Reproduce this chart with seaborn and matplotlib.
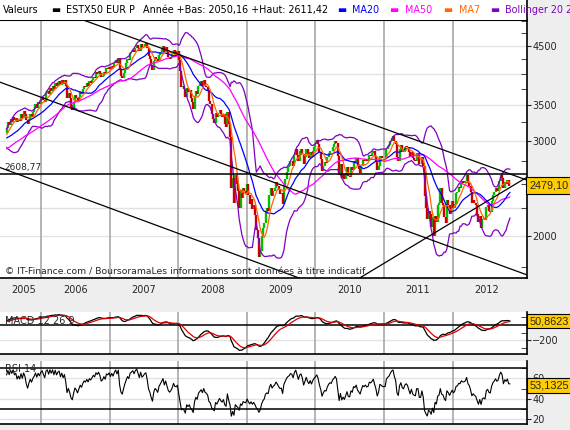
import numpy as np
import pandas as pd
import matplotlib
matplotlib.use("Agg")
import matplotlib.pyplot as plt
import matplotlib.dates as mdates
from matplotlib.patches import Rectangle
from matplotlib.lines import Line2D
from matplotlib.ticker import FixedLocator, NullFormatter, FuncFormatter
import seaborn as sns

# cours de cloture hebdo (vendredi) ESTX50
# jul 2004 -> jun 2005 : seulement pour amorcer les moyennes
close_2004 = [2730, 2690, 2650, 2700, 2720, 2660, 2630, 2680, 2670, 2710, 2740, 2770, 2720,
              2740, 2710, 2760, 2700, 2770, 2820, 2800, 2850, 2830, 2870, 2860, 2910, 2900, 2950,
              2910, 2950, 2900, 2980, 3010, 2990, 3050, 3070, 3040, 3080, 3030, 3050,
              3020, 3060, 2990, 2920, 2950, 2990, 2960, 3030, 3010, 3080, 3050, 3130, 3110]
close_2005 = [3170, 3250, 3210, 3290, 3260, 3330, 3280, 3310, 3250,
              3300, 3270, 3360, 3310, 3410, 3370, 3280, 3220, 3300,
              3370, 3330, 3400, 3440, 3510, 3460, 3540, 3510, 3580]
close_2006 = [3620, 3580, 3540, 3680, 3710, 3660, 3760, 3720, 3800, 3740, 3850, 3790, 3854,
              3880, 3810, 3890, 3830, 3900, 3800, 3600, 3680, 3600, 3470, 3420, 3540, 3648,
              3610, 3540, 3620, 3700, 3660, 3740, 3800, 3780, 3840, 3800, 3870, 3850, 3900,
              3950, 3930, 4020, 4000, 4050, 4010, 3940, 3960, 4020, 3990, 4090, 4080, 4120]
close_2007 = [4080, 4140, 4110, 4180, 4230, 4190, 4270, 4080, 3960, 3920, 4010, 4100, 4180,
              4260, 4230, 4360, 4390, 4430, 4390, 4470, 4510, 4460, 4400, 4530, 4460, 4490,
              4540, 4560, 4470, 4320, 4260, 4150, 4060, 4220, 4290, 4260, 4210, 4330, 4380,
              4440, 4500, 4390, 4480, 4390, 4300, 4260, 4290, 4340, 4430, 4380, 4370, 4400]
close_2008 = [4240, 4050, 3780, 3800, 3740, 3620, 3760, 3700, 3730, 3600, 3550, 3440, 3630,
              3720, 3660, 3790, 3830, 3870, 3800, 3890, 3800, 3780, 3730, 3560, 3520, 3360,
              3300, 3240, 3380, 3330, 3380, 3430, 3370, 3330, 3370, 3230, 3180, 3400, 3220,
              3050, 2450, 2560, 2300, 2590, 2500, 2420, 2250, 2430, 2350, 2460, 2420, 2400]
close_2009 = [2500, 2380, 2290, 2340, 2240, 2280, 2190, 2050, 1980, 1830, 1880, 2000, 2070,
              2110, 2220, 2250, 2230, 2380, 2460, 2370, 2420, 2450, 2520, 2480, 2430, 2390,
              2400, 2290, 2480, 2550, 2630, 2680, 2700, 2760, 2750, 2700, 2830, 2900, 2830,
              2760, 2870, 2900, 2840, 2720, 2800, 2900, 2830, 2790, 2860, 2800, 2880, 2930]
close_2010 = [2965, 3010, 2960, 2860, 2780, 2640, 2700, 2740, 2730, 2800, 2850, 2880, 2870,
              2930, 2960, 3000, 2970, 2820, 2600, 2720, 2560, 2610, 2550, 2620, 2690, 2580,
              2570, 2680, 2650, 2760, 2740, 2790, 2700, 2660, 2620, 2700, 2770, 2750, 2780,
              2750, 2760, 2830, 2820, 2845, 2880, 2820, 2760, 2650, 2700, 2820, 2810, 2790, 2790]
close_2011 = [2790, 2900, 2930, 2950, 3000, 3040, 3060, 3000, 2960, 2800, 2760, 2900,
              2950, 2880, 2860, 2920, 2940, 2920, 2860, 2800, 2860, 2790, 2770, 2760, 2850,
              2850, 2720, 2720, 2800, 2700, 2370, 2250, 2150, 2230, 2200, 2080, 2170, 2000, 2180,
              2120, 2280, 2300, 2450, 2300, 2280, 2170, 2110, 2330, 2280, 2200, 2260, 2320]
close_2012 = [2250, 2290, 2400, 2410, 2470, 2460, 2530, 2510, 2510, 2530, 2600, 2510, 2480,
              2410, 2300, 2330, 2300, 2280, 2200, 2120, 2180, 2070, 2150, 2160, 2140, 2260,
              2280, 2230, 2220, 2320, 2380, 2410, 2450, 2420, 2440, 2530, 2590, 2560, 2450,
              2520, 2500, 2540, 2480, 2479.10]

last_close = 2479.10
last_macd = 50.8623
last_rsi = 53.1325
pivot_level = 2608.77

# droites de tendance (date, niveau)
trend_dates = ["2005-05-27", "2013-01-30"]
trend_top = [5715, 2540]
trend_mid = [3856, 1695]
trend_low = [2679, 1168]
support_dates = ["2010-05-11", "2013-01-30"]
support_vals = [1589, 2569]

years = list(range(2005, 2013))

closes = (close_2004 + close_2005 + close_2006 + close_2007 + close_2008 +
          close_2009 + close_2010 + close_2011 + close_2012)
df = pd.DataFrame({"date": pd.date_range("2004-07-02", periods=len(closes), freq="W-FRI"),
                   "close": closes})
df["open"] = df["close"].shift(1)
df["ma7"] = df["close"].rolling(7).mean()
df["ma20"] = df["close"].rolling(20).mean()
df["ma50"] = df["close"].rolling(50).mean()
sd = df["close"].rolling(20).std(ddof=0)
df["bb_up"] = df["ma20"] + 2 * sd
df["bb_dn"] = df["ma20"] - 2 * sd
ema12 = df["close"].ewm(span=12, adjust=False).mean()
ema26 = df["close"].ewm(span=26, adjust=False).mean()
df["macd"] = ema12 - ema26
df["signal"] = df["macd"].ewm(span=9, adjust=False).mean()
delta = df["close"].diff()
gain = delta.clip(lower=0).ewm(alpha=1 / 14, adjust=False).mean()
loss = (-delta.clip(upper=0)).ewm(alpha=1 / 14, adjust=False).mean()
df["rsi"] = 100 - 100 / (1 + gain / loss)
show = df[df["date"] >= "2005-07-01"].reset_index(drop=True)

sns.set_style("white")
plt.rcParams["font.family"] = ["DejaVu Sans"]

W, H = 570, 430
fig = plt.figure(figsize=(W / 100, H / 100), dpi=100, facecolor="#EEEEEE")
right = 526.7 / W
ax = fig.add_axes([0, 1 - 278 / H, right, 258 / H])
axm = fig.add_axes([0, 1 - 354 / H, right, 42 / H])
axr = fig.add_axes([0, 1 - 424 / H, right, 63 / H])

x0, x1 = mdates.date2num(pd.Timestamp("2005-05-27")), mdates.date2num(pd.Timestamp("2013-01-30"))
year_starts = [mdates.date2num(pd.Timestamp(f"{y}-01-01")) for y in years[1:]]
label_pos = [mdates.date2num(pd.Timestamp("2005-10-01"))] + \
            [mdates.date2num(pd.Timestamp(f"{y}-07-01")) for y in years[1:]]

for a in (ax, axm, axr):
    a.set_facecolor("white")
    a.set_xlim(x0, x1)
    for s in ("left", "top"):
        a.spines[s].set_visible(False)
    for s in ("right", "bottom"):
        a.spines[s].set_color("black")
        a.spines[s].set_linewidth(1.2)
    for xs in year_starts:
        a.axvline(xs, color="#A8A8A8", lw=1.2, zorder=0.5)
ax.spines["top"].set_visible(True)
ax.spines["top"].set_color("black")

# --- prix ---
ax.set_yscale("log")
ax.set_ylim(1672, 5028)
for g in [2000, 2250, 3000, 3500, 4000, 4500]:
    ax.axhline(g, color="#E2E2E2", lw=1, zorder=0.3)

up = show["close"] >= show["open"]
ax.vlines(show["date"][up], show["open"][up], show["close"][up], color="#00C000", lw=1.7, zorder=2)
ax.vlines(show["date"][~up], show["open"][~up], show["close"][~up], color="#CC0000", lw=1.7, zorder=2)

for col, c in [("bb_up", "#7F00C0"), ("bb_dn", "#7F00C0"), ("ma50", "#FF00FF"),
               ("ma20", "#0000FF"), ("ma7", "#FF6600")]:
    sns.lineplot(data=show, x="date", y=col, ax=ax, color=c, lw=0.9, zorder=3)

td = [pd.Timestamp(d) for d in trend_dates]
for vals in (trend_top, trend_mid, trend_low):
    ax.plot(td, vals, color="black", lw=0.9, zorder=4)
ax.plot([pd.Timestamp(d) for d in support_dates], support_vals, color="black", lw=0.9, zorder=4)
ax.axhline(pivot_level, color="black", lw=1.1, zorder=4)
ax.annotate(f"{pivot_level:.2f}".replace(".", ","), xy=(0, pivot_level),
            xycoords=("axes fraction", "data"), xytext=(3, 1), textcoords="offset points",
            fontsize=6.5, va="bottom", ha="left")

ax.yaxis.tick_right()
ax.yaxis.set_major_locator(FixedLocator([2000, 3000, 3500, 4500]))
ax.yaxis.set_minor_locator(FixedLocator(np.arange(1750, 5001, 250)))
ax.yaxis.set_major_formatter(FuncFormatter(lambda v, p: f"{v:.0f}"))
ax.yaxis.set_minor_formatter(NullFormatter())
ax.tick_params(axis="y", which="major", direction="out", length=3, labelsize=7, pad=1)
ax.tick_params(axis="y", which="minor", direction="in", length=4)

ax.set_xticks(label_pos)
ax.set_xticklabels([str(y) for y in years])
ax.xaxis.set_minor_locator(FixedLocator(year_starts))
ax.tick_params(axis="x", which="major", length=0, labelsize=7, pad=5)
ax.tick_params(axis="x", which="minor", direction="out", length=3, color="black")
ax.set_xlabel("")
ax.set_ylabel("")

ax.text(0.009, 0.025, "© IT-Finance.com / BoursoramaLes informations sont données à titre indicatif",
        transform=ax.transAxes, fontsize=6.7, va="center", ha="left", zorder=6)

box = dict(boxstyle="square,pad=0.2", fc="#FFCC00", ec="black", lw=0.8)
box_font = dict(fontsize=7.8, family=["Liberation Sans", "DejaVu Sans"], va="center", ha="left",
                annotation_clip=False, zorder=10)
ax.annotate(f"{last_close:.2f}".replace(".", ","), xy=(1, last_close),
            xycoords=("axes fraction", "data"), xytext=(2, 0), textcoords="offset points",
            bbox=dict(box, boxstyle="square,pad=0.35"), **box_font)

# --- MACD ---
sns.lineplot(data=show, x="date", y="macd", ax=axm, color="black", lw=0.9)
sns.lineplot(data=show, x="date", y="signal", ax=axm, color="#DD0000", lw=0.9)
axm.set_ylim(-380, 170)
axm.axhline(0, color="black", lw=1.1, zorder=1)
axm.axhline(-200, color="#E2E2E2", lw=1, zorder=0.3)
axm.yaxis.tick_right()
axm.yaxis.set_major_locator(FixedLocator([-200]))
axm.yaxis.set_minor_locator(FixedLocator([100, -100, -300]))
axm.yaxis.set_major_formatter(FuncFormatter(lambda v, p: f"{v:.0f}".replace("-", "\u2212")))
axm.tick_params(axis="y", which="major", direction="out", length=3, labelsize=7, pad=1)
axm.tick_params(axis="y", which="minor", direction="in", length=4)
axm.text(0.009, 0.79, "MACD 12 26 9", transform=axm.transAxes, fontsize=7, va="center", ha="left")
axm.annotate(f"{last_macd:.4f}".replace(".", ","), xy=(1, last_macd),
             xycoords=("axes fraction", "data"), xytext=(2, 0), textcoords="offset points",
             bbox=box, **box_font)

# --- RSI ---
sns.lineplot(data=show, x="date", y="rsi", ax=axr, color="black", lw=0.8)
axr.set_ylim(15.5, 77)
for lv in (70, 30):
    axr.axhline(lv, color="black", lw=1.1, zorder=1)
for lv in (60, 40, 20):
    axr.axhline(lv, color="#E2E2E2", lw=1, zorder=0.3)
axr.yaxis.tick_right()
axr.yaxis.set_major_locator(FixedLocator([20, 40, 60]))
axr.yaxis.set_minor_locator(FixedLocator([30, 50, 70]))
axr.tick_params(axis="y", which="major", direction="out", length=3, labelsize=7, pad=1)
axr.tick_params(axis="y", which="minor", direction="in", length=4)
axr.text(0.009, 0.87, "RSI 14", transform=axr.transAxes, fontsize=7, va="center", ha="left")
axr.annotate(f"{last_rsi:.4f}".replace(".", ","), xy=(1, last_rsi),
             xycoords=("axes fraction", "data"), xytext=(2, 0), textcoords="offset points",
             bbox=box, **box_font)

for a in (axm, axr):
    a.set_xticks([])
    a.xaxis.set_minor_locator(FixedLocator([]))
    a.set_xlabel("")
    a.set_ylabel("")

# --- bandeau du haut ---
fig.patches.append(Rectangle((0, 1 - 20 / H), right, 20 / H, transform=fig.transFigure,
                             fc="white", ec="none", zorder=0))
fig.lines.append(Line2D([right, right], [1 - 20 / H, 1], transform=fig.transFigure,
                        color="black", lw=1.2))
yh = 1 - 10 / H
header = [(3, "Valeurs", "black"), (51, "\u25ac", "black"), (66, "ESTX50 EUR P", "black"),
          (143, "Année +Bas: 2050,16 +Haut: 2611,42", "black"),
          (337, "\u25ac", "#0000FF"), (352, "MA20", "#0000FF"),
          (389, "\u25ac", "#FF00FF"), (405, "MA50", "#FF00FF"),
          (443, "\u25ac", "#FF6600"), (459, "MA7", "#FF6600"),
          (490, "\u25ac", "#7F00C0"), (505, "Bollinger 20 2", "#7F00C0")]
for px, t, c in header:
    fig.text(px / W, yh, t, color=c, fontsize=6.9, va="center", ha="left")

fig.savefig("out.png", dpi=100, facecolor=fig.get_facecolor())
